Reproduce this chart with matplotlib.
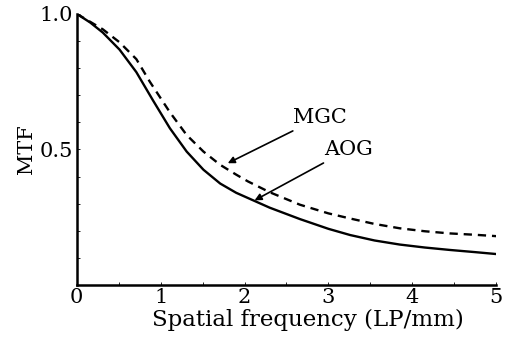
import matplotlib.pyplot as plt
from matplotlib.ticker import MultipleLocator

plt.rcParams['font.family'] = ['DejaVu Serif']

# values
freq_aog = [0.0, 0.16, 0.31, 0.51, 0.71, 0.91, 1.11, 1.31, 1.51, 1.71, 1.9, 2.06, 2.3, 2.66,
            3.0, 3.26, 3.55, 3.85, 4.15, 4.45, 4.75, 5.0]
mtf_aog = [1.0, 0.968, 0.931, 0.868, 0.785, 0.68, 0.578, 0.492, 0.425, 0.374, 0.34, 0.318, 0.285, 0.243,
           0.207, 0.184, 0.164, 0.149, 0.138, 0.129, 0.121, 0.114]

freq_mgc = [0.0, 0.12, 0.31, 0.51, 0.71, 0.87, 1.11, 1.31, 1.51, 1.71, 1.9, 2.04, 2.3, 2.66,
            3.0, 3.26, 3.55, 3.85, 4.15, 4.45, 4.75, 5.0]
mtf_mgc = [1.0, 0.978, 0.943, 0.895, 0.833, 0.75, 0.637, 0.553, 0.492, 0.443, 0.407, 0.382, 0.342, 0.296,
           0.264, 0.245, 0.225, 0.209, 0.198, 0.19, 0.185, 0.18]

fig = plt.figure(figsize=(5.12, 3.38), dpi=100)
ax = fig.add_axes([0.150, 0.157, 0.819, 0.802])

ax.plot(freq_aog, mtf_aog, color='black', lw=1.7)
ax.plot(freq_mgc, mtf_mgc, color='black', lw=1.7, ls=(0, (3.5, 2.5)))

ax.set_xlim(0, 5)
ax.set_ylim(0, 1.0)
ax.set_xticks([0, 1, 2, 3, 4, 5])
ax.set_yticks([0.5, 1.0])
ax.set_yticklabels(['0.5', '1.0'])
ax.yaxis.set_minor_locator(MultipleLocator(0.1))
ax.xaxis.set_minor_locator(MultipleLocator(0.5))
ax.tick_params(which='both', direction='in', length=2, width=0.6, labelsize=15, pad=2)
ax.tick_params(axis='y', pad=3)

for side in ('top', 'right'):
    ax.spines[side].set_visible(False)
for side in ('left', 'bottom'):
    ax.spines[side].set_linewidth(1.8)

ax.set_xlabel('Spatial frequency (LP/mm)', fontsize=16.5)
ax.xaxis.set_label_coords(0.55, -0.088)
ax.set_ylabel('MTF', fontsize=15, labelpad=2)

ax.annotate('MGC', xy=(1.80, 0.449), xytext=(2.58, 0.618), fontsize=15, va='center',
            arrowprops=dict(arrowstyle='-|>', color='black', lw=1.2, shrinkA=2, shrinkB=0,
                            mutation_scale=10))
ax.annotate('AOG', xy=(2.12, 0.312), xytext=(2.95, 0.50), fontsize=15, va='center',
            arrowprops=dict(arrowstyle='-|>', color='black', lw=1.2, shrinkA=2, shrinkB=0,
                            mutation_scale=10))

fig.savefig('out.png', dpi=100)
